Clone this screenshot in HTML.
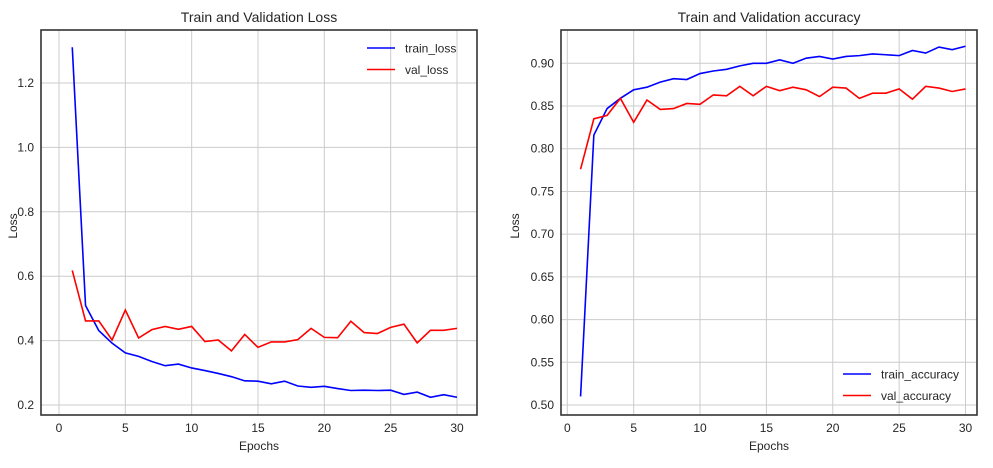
<!DOCTYPE html>
<html><head><meta charset="utf-8"><style>
body{margin:0;background:#fff;font-family:"Liberation Sans",sans-serif}
svg text{font-family:"Liberation Sans",sans-serif;fill:#262626}
</style></head><body>
<svg id="chart" width="993" height="463" viewBox="0 0 993 463" xmlns="http://www.w3.org/2000/svg"></svg>
<script>
const epochs = [1,2,3,4,5,6,7,8,9,10,11,12,13,14,15,16,17,18,19,20,21,22,23,24,25,26,27,28,29,30];
const trainLoss = [1.311,0.509,0.431,0.392,0.362,0.351,0.335,0.322,0.327,0.315,0.307,0.298,0.288,0.275,0.274,0.266,0.274,0.259,0.255,0.258,0.251,0.245,0.246,0.245,0.246,0.233,0.240,0.224,0.232,0.224];
const valLoss = [0.618,0.461,0.461,0.402,0.495,0.408,0.434,0.444,0.435,0.444,0.397,0.402,0.368,0.419,0.379,0.396,0.396,0.403,0.438,0.410,0.409,0.460,0.425,0.422,0.441,0.451,0.393,0.432,0.432,0.438];
const trainAcc = [0.510,0.816,0.847,0.859,0.869,0.872,0.878,0.882,0.881,0.888,0.891,0.893,0.897,0.900,0.900,0.904,0.900,0.906,0.908,0.905,0.908,0.909,0.911,0.910,0.909,0.915,0.912,0.919,0.916,0.920];
const valAcc = [0.776,0.835,0.839,0.859,0.831,0.857,0.846,0.847,0.853,0.852,0.863,0.862,0.873,0.862,0.873,0.868,0.872,0.869,0.861,0.872,0.871,0.859,0.865,0.865,0.870,0.858,0.873,0.871,0.867,0.870];
const xTicks = [0,5,10,15,20,25,30];
const lossTicks = [0.2,0.4,0.6,0.8,1.0,1.2];
const accTicks = [0.50,0.55,0.60,0.65,0.70,0.75,0.80,0.85,0.90];

const svg = document.getElementById('chart');
const NS = 'http://www.w3.org/2000/svg';
function mk(tag, attrs, parent){const e=document.createElementNS(NS,tag);for(const k in attrs)e.setAttribute(k,attrs[k]);(parent||svg).appendChild(e);return e;}

function panel(o){
  const g = mk('g',{});
  
  
  const xs = v => o.x0 + (v - 0) * (o.x30 - o.x0) / 30;
  const ys = v => o.yA + (v - o.vA) * (o.yB - o.yA) / (o.vB - o.vA);
  xTicks.forEach(t=>{
    const l=mk('line',{x1:xs(t),x2:xs(t),y1:o.top,y2:o.bot,stroke:'#cccccc','stroke-width':1},g);
    
    
    const tx=mk('text',{x:xs(t),y:o.bot+17,'text-anchor':'middle','font-size':12},g);
    tx.textContent=t;
    
    
  });
  o.yTicks.forEach(t=>{
    const l=mk('line',{x1:o.left,x2:o.right,y1:ys(t),y2:ys(t),stroke:'#cccccc','stroke-width':1},g);
    
    
    const tx=mk('text',{x:o.left-7,y:ys(t)+4,'text-anchor':'end','font-size':12},g);
    tx.textContent=t.toFixed(o.dec);
    
    
  });
  o.series.forEach(s=>{
    const p=mk('polyline',{points:epochs.map((e,i)=>xs(e)+','+ys(s.data[i])).join(' '),fill:'none',stroke:s.color,'stroke-width':1.6},g);
    
    
  });
  const fr=mk('rect',{x:o.left,y:o.top,width:o.right-o.left,height:o.bot-o.top,fill:'none',stroke:'#333','stroke-width':1.6},g);
  
  
  const ti=mk('text',{x:(o.left+o.right)/2,y:22,'text-anchor':'middle','font-size':14},g);
  ti.textContent=o.title;
  
  
  const xl=mk('text',{x:(o.left+o.right)/2,y:450,'text-anchor':'middle','font-size':12},g);
  xl.textContent='Epochs';
  
  
  const yl=mk('text',{x:0,y:0,'text-anchor':'middle','font-size':12,transform:`translate(${o.ylX},226) rotate(-90)`},g);
  yl.textContent='Loss';
  
  
  o.series.forEach((s,i)=>{
    const y=o.legY+i*21.5;
    const lg=mk('g',{},g);
    
    
    mk('line',{x1:o.legX,x2:o.legX+28,y1:y,y2:y,stroke:s.color,'stroke-width':1.6},lg);
    const t=mk('text',{x:o.legX+38,y:y+4.5,'font-size':12},lg);
    t.textContent=s.name;
  });
}
panel({name:'loss-chart',title:'Train and Validation Loss',left:41,right:477,top:30,bot:415,x0:59,x30:457,vA:0.2,yA:405,vB:1.2,yB:83,yTicks:lossTicks,dec:1,legX:367,legY:48,ylX:17,
  series:[{name:'train_loss',data:trainLoss,color:'#0000ff'},{name:'val_loss',data:valLoss,color:'#ff0000'}]});
panel({name:'accuracy-chart',title:'Train and Validation accuracy',left:561,right:977,top:30,bot:415,x0:567.3,x30:965.5,vA:0.5,yA:405,vB:0.9,yB:63.3,yTicks:accTicks,dec:2,legX:843,legY:374,ylX:519,
  series:[{name:'train_accuracy',data:trainAcc,color:'#0000ff'},{name:'val_accuracy',data:valAcc,color:'#ff0000'}]});
</script>
</body></html>
